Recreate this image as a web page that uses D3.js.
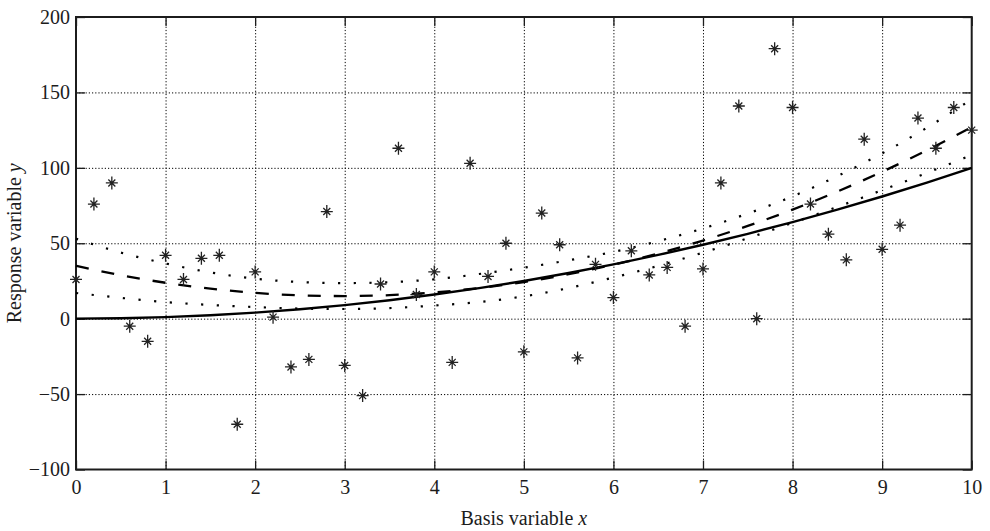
<!DOCTYPE html>
<html>
<head>
<meta charset="utf-8">
<script src="https://cdn.jsdelivr.net/npm/d3@7"></script>
<style>
  body { margin: 0; background: #fff; }
  svg { display: block; }
  text { font-family: "Liberation Serif", "Times New Roman", serif; }
</style>
</head>
<body>
<svg id="chart" width="990" height="531"></svg>
<script>
// ---- Data ----
const xObs = [0,0.2,0.4,0.6,0.8,1,1.2,1.4,1.6,1.8,2,2.2,2.4,2.6,2.8,3,3.2,3.4,3.6,3.8,4,4.2,4.4,4.6,4.8,5,5.2,5.4,5.6,5.8,6,6.2,6.4,6.6,6.8,7,7.2,7.4,7.6,7.8,8,8.2,8.4,8.6,8.8,9,9.2,9.4,9.6,9.8,10];
const yObs = [26,76,90,-5,-15,42,26,40,42,-70,31,1,-32,-27,71,-31,-51,23,113,16,31,-29,103,28,50,-22,70,49,-26,36,14,45,29,34,-5,33,90,141,0,179,140,76,56,39,119,46,62,133,113,140,125];

const xFit = [0,0.5,1,1.5,2,2.5,3,3.5,4,4.5,5,5.5,6,6.5,7,7.5,8,8.5,9,9.5,10];
const yTrue = [0,0.25,1,2.25,4,6.25,9,12.25,16,20.25,25,30.25,36,42.25,49,56.25,64,72.25,81,90.25,100];
const yFit = [35,28.8,23.8,19.9,17.1,15.5,15.0,15.6,17.4,20.3,24.3,29.5,35.8,43.2,51.8,61.5,72.3,84.3,97.4,111.6,127.0];
const yUpper = [53,43.8,36.6,30.7,26.5,24.3,23.6,24.2,26.1,29.6,33.8,38.7,44.3,51.4,59.8,69.7,81.1,94.5,109.6,126.6,145.5];
const yLower = [17,13.8,11.0,9.1,7.7,6.7,6.4,7.0,8.7,11.0,14.8,20.3,27.3,35.0,43.8,53.3,63.5,74.1,85.2,96.6,108.5];

const xTicks = [0,1,2,3,4,5,6,7,8,9,10];
const yTicks = [-100,-50,0,50,100,150,200];
const yTickLabels = ["\u2212100","\u221250","0","50","100","150","200"];

// ---- Layout ----
const L = 76, R = 971.7, T = 17, B = 469.5;
const svg = d3.select("#chart");
const x = d3.scaleLinear().domain([0,10]).range([L,R]);
const y = d3.scaleLinear().domain([-100,200]).range([B,T]);
const ink = "#1c1c1c";

// grid
const grid = svg.append("g");
grid.append("g").attr("transform",`translate(0,${B})`)
  .call(d3.axisBottom(x).tickValues(xTicks.slice(1,-1)).tickSize(-(B-T)).tickFormat(""))
  .call(g => g.select(".domain").remove())
  .call(g => g.selectAll("line").attr("stroke","#000").attr("stroke-width",1).attr("stroke-dasharray","1.2 2"));
grid.append("g").attr("transform",`translate(${L},0)`)
  .call(d3.axisLeft(y).tickValues(yTicks.slice(1,-1)).tickSize(-(R-L)).tickFormat(""))
  .call(g => g.select(".domain").remove())
  .call(g => g.selectAll("line").attr("stroke","#000").attr("stroke-width",1).attr("stroke-dasharray","1.2 2"));

// axes with inward ticks
function styleAxis(g){
  g.select(".domain").remove();
  g.selectAll(".tick line").attr("stroke",ink).attr("stroke-width",1.3);
  g.selectAll(".tick text").attr("fill",ink).attr("font-size",20)
    .attr("font-family",'"Liberation Serif","Times New Roman",serif');
}
svg.append("g").attr("transform",`translate(0,${B})`)
  .call(d3.axisBottom(x).tickValues(xTicks).tickSizeInner(-9).tickSizeOuter(0).tickPadding(10).tickFormat(d3.format("d")))
  .call(styleAxis);
svg.append("g").attr("transform",`translate(0,${T})`)
  .call(d3.axisTop(x).tickValues(xTicks).tickSizeInner(-9).tickSizeOuter(0).tickFormat(""))
  .call(styleAxis);
svg.append("g").attr("transform",`translate(${L},0)`)
  .call(d3.axisLeft(y).tickValues(yTicks).tickSizeInner(-9).tickSizeOuter(0).tickPadding(6)
    .tickFormat((d,i) => yTickLabels[i]))
  .call(styleAxis);
svg.append("g").attr("transform",`translate(${R},0)`)
  .call(d3.axisRight(y).tickValues(yTicks).tickSizeInner(-9).tickSizeOuter(0).tickFormat(""))
  .call(styleAxis);

// box
svg.append("rect").attr("x",L).attr("y",T).attr("width",R-L).attr("height",B-T)
  .attr("fill","none").attr("stroke",ink).attr("stroke-width",2);

// curves
const line = (ys) => d3.line().x((d,i)=>x(xFit[i])).y((d,i)=>y(ys[i])).curve(d3.curveMonotoneX)(ys);
svg.append("path").attr("d",line(yTrue)).attr("fill","none").attr("stroke","#000").attr("stroke-width",2.4);
svg.append("path").attr("d",line(yFit)).attr("fill","none").attr("stroke","#000").attr("stroke-width",2.3)
  .attr("stroke-dasharray","13 13");
svg.append("path").attr("d",line(yUpper)).attr("fill","none").attr("stroke","#000").attr("stroke-width",2.2)
  .attr("stroke-dasharray","2.2 13.5");
svg.append("path").attr("d",line(yLower)).attr("fill","none").attr("stroke","#000").attr("stroke-width",2.2)
  .attr("stroke-dasharray","2.2 13.5");

// star markers
svg.append("g").selectAll("path").data(xObs).join("path")
  .attr("transform",(d,i)=>`translate(${x(d)},${y(yObs[i])})`)
  .attr("d","M-6,0H6M0,-6.5V6.5M-3.5,-3.5L3.5,3.5M-3.5,3.5L3.5,-3.5")
  .attr("fill","none").attr("stroke","#222").attr("stroke-width",1.3);

// labels
const xl = svg.append("text").attr("x",(L+R)/2).attr("y",525).attr("text-anchor","middle")
  .attr("font-size",20).attr("fill",ink);
xl.append("tspan").text("Basis variable ");
xl.append("tspan").attr("font-style","italic").text("x");
const yl = svg.append("text").attr("transform",`translate(21,${(T+B)/2}) rotate(-90)`)
  .attr("text-anchor","middle").attr("font-size",20).attr("fill",ink);
yl.append("tspan").text("Response variable ");
yl.append("tspan").attr("font-style","italic").text("y");
</script>
</body>
</html>
